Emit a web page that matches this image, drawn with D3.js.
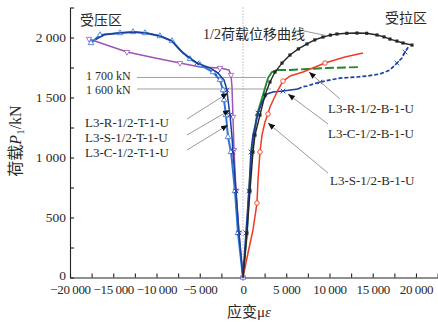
<!DOCTYPE html>
<html><head><meta charset="utf-8">
<script src="https://cdn.jsdelivr.net/npm/d3@7"></script>
<style>
body{margin:0;background:#fff}
svg{display:block}
text{font-family:"Liberation Serif","Times New Roman","Noto Sans CJK SC",serif;fill:#2a2a2a}
</style>
</head><body>
<svg id="chart" width="438" height="322"></svg>
<script>
// ---------- axis ticks ----------
const xTicks = d3.range(-20000, 22501, 2500);
const xLabels = [-20000, -15000, -10000, -5000, 0, 5000, 10000, 15000, 20000];
const yTicks = d3.range(0, 2251, 250);
const yLabels = [0, 500, 1000, 1500, 2000];

// ---------- tension side (strain με, load kN) ----------
const halfStrain = [0,462,809,1156,1387,1965,2543,3121,3700,4510,5433,6400,7400,8300,9250,10100,10865,12000,13180,14300,15490,16300,16990,17800,18500,19540];
const halfLoad   = [0,371,721,1046,1187,1354,1521,1629,1712,1787,1854,1905,1946,1980,2004,2020,2029,2035,2037,2035,2021,2005,1987,1970,1954,1937];

const sBStrain = [0,578,1156,1618,1734,1965,2196,2543,2890,3121,3930,4624,5433,6936,9480,11790,13870];
const sBLoad   = [0,204,396,621,812,1046,1187,1296,1362,1421,1546,1637,1679,1712,1787,1837,1871];

const rBStrain = [0,462,694,1040,1618,2312,2890,3352,3930,5433,7400,9710,13520];
const rBLoad   = [0,371,721,1046,1354,1521,1662,1712,1729,1729,1737,1746,1754];

const cBStrain = [0,347,694,925,1156,1734,2196,2774,3468,4624,6358,6820,7400,8900,11210,13180,14330,15840,16990,17800,18380,18730,19190];
const cBLoad   = [0,371,721,1046,1187,1371,1462,1529,1546,1554,1571,1588,1596,1629,1662,1671,1679,1696,1729,1787,1829,1879,1929];

// ---------- compression side ----------
const sTStrain = [-17571,-16531,-14219,-12716,-11329,-9595,-8208,-7283,-6127,-4971,-3468,-2659,-2312,-2196,-1965,-1734,-1387,-925,-578,0];
const sTLoad   = [1954,2021,2037,2046,2037,2012,1971,1896,1821,1771,1712,1646,1562,1479,1354,1171,1046,721,371,0];

const cTStrain = [-17000,-16000,-14000,-12500,-11000,-9500,-8208,-6936,-5318,-3815,-2890,-2196,-1850,-1734,-1503,-1271,-1156,-809,-462,0];
const cTLoad   = [1985,2025,2040,2045,2035,2010,1971,1871,1787,1746,1704,1646,1562,1479,1354,1171,1046,721,371,0];

const rTStrain = [-17802,-13410,-9595,-7283,-4971,-2659,-1618,-1387,-1271,-1156,-1040,-809,-462,0];
const rTLoad   = [1988,1879,1821,1787,1754,1746,1729,1688,1588,1338,1062,721,371,0];

// reference load lines
const refLoads  = [1667, 1571];
const refLabels = ["1 700 kN", "1 600 kN"];
const refEndStrain = [2660, 3240];

const svg = d3.select("#chart");
const x = d3.scaleLinear().domain([-20000, 22500]).range([70, 437.6]);
const y = d3.scaleLinear().domain([0, 2250]).range([277.5, 7.5]);

const fmt = v => (v < 0 ? "\u2212" : "") + d3.format(",")(Math.abs(v)).replace(/,/g, " ");

// zero dotted line
svg.append("line").attr("x1", x(0)).attr("x2", x(0)).attr("y1", y(2250)).attr("y2", y(0))
  .attr("stroke", "#9a9a9a").attr("stroke-width", 1).attr("stroke-dasharray", "1,2");

// axes
const xAxis = d3.axisBottom(x).tickValues(xTicks).tickSizeInner(-4).tickSizeOuter(0)
  .tickFormat(d => xLabels.includes(d) ? fmt(d) : "");
const gx = svg.append("g").attr("transform", `translate(0,${y(0)})`).call(xAxis);
gx.selectAll("text").attr("dy", null).attr("y", 16).style("font-size", "13px").style("letter-spacing", "-0.4px")
  .style("font-family", '"Liberation Serif",serif').attr("fill", "#2a2a2a");

const yAxis = d3.axisLeft(y).tickValues(yTicks).tickSizeInner(-4).tickSizeOuter(0)
  .tickFormat(d => yLabels.includes(d) ? fmt(d) : "");
const gy = svg.append("g").attr("transform", `translate(${x(-20000)},0)`).call(yAxis);
gy.selectAll("text").attr("x", -4).attr("dy", "0.3em").style("font-size", "13.5px").style("font-family", '"Liberation Serif",serif').attr("fill", "#2a2a2a");
gy.selectAll(".tick").filter(d => d === 0).select("text").attr("dy", "0.12em");
svg.selectAll(".domain, .tick line").attr("stroke", "#222").attr("stroke-width", 1.1);

// reference lines
const refTextShift = [-1.5, 1.5];
refLoads.forEach((L, i) => {
  svg.append("line").attr("x1", 137).attr("x2", x(refEndStrain[i])).attr("y1", y(L)).attr("y2", y(L))
    .attr("stroke", "#a0a0a0").attr("stroke-width", 1);
  svg.append("text").attr("x", 86).attr("y", y(L) + 4 + refTextShift[i]).style("font-size", "12px").text(refLabels[i]);
});

// series
const series = [
  {xs: rTStrain, ys: rTLoad, color: "#a052b8", w: 1.5, dashFrom: null, sym: "triDown", marks: [0,1,3,5,7,9,10,11,12,13]},
  {xs: sTStrain, ys: sTLoad, color: "#2f74d6", w: 2, dashFrom: null, sym: "tri", marks: [0,1,2,3,4,5,6,8,9,10,11,12,13,14,15,16,17,18,19]},
  {xs: cTStrain, ys: cTLoad, color: "#1c3f9c", w: 1.5, dashFrom: null, sym: "times", marks: [8,10,12,14,16,17,18]},
  {xs: rBStrain, ys: rBLoad, color: "#1f8a2c", w: 1.9, dashFrom: 8, dash: "9,3", sym: "circleFill", marks: [2,4]},
  {xs: cBStrain, ys: cBLoad, color: "#1d3fa0", w: 1.7, dashFrom: 10, dash: "4,2", sym: "times", marks: [1,2,3,5,9,13,19,21]},
  {xs: sBStrain, ys: sBLoad, color: "#f23a22", w: 1.5, dashFrom: null, sym: "circleOpen", marks: [3,5,8,11,14]},
  {xs: halfStrain, ys: halfLoad, color: "#262626", w: 1.4, dashFrom: null, sym: "square", marks: d3.range(1, 26)}
];

const line = d3.line().x(d => x(d[0])).y(d => y(d[1]));
series.forEach(s => {
  const pts = s.xs.map((v, i) => [v, s.ys[i]]);
  if (s.dashFrom == null) {
    svg.append("path").attr("d", line(pts)).attr("fill", "none").attr("stroke", s.color).attr("stroke-width", s.w).attr("stroke-linejoin", "round");
  } else {
    svg.append("path").attr("d", line(pts.slice(0, s.dashFrom + 1))).attr("fill", "none").attr("stroke", s.color).attr("stroke-width", s.w);
    svg.append("path").attr("d", line(pts.slice(s.dashFrom))).attr("fill", "none").attr("stroke", s.color).attr("stroke-width", s.w).attr("stroke-dasharray", s.dash);
  }
  const g = svg.append("g");
  s.marks.forEach(i => {
    const px = x(pts[i][0]), py = y(pts[i][1]);
    let p;
    if (s.sym === "tri") {
      p = g.append("path").attr("d", d3.symbol(d3.symbolTriangle, 14)()).attr("fill", "#fff").attr("stroke", s.color).attr("stroke-width", 0.8);
    } else if (s.sym === "triDown") {
      p = g.append("path").attr("d", d3.symbol(d3.symbolTriangle, 13)()).attr("fill", "#fff").attr("stroke", s.color).attr("stroke-width", 0.8);
      p.attr("transform", `translate(${px},${py}) rotate(180)`); return;
    } else if (s.sym === "times") {
      p = g.append("path").attr("d", d3.symbol(d3.symbolTimes, 16)()).attr("fill", "none").attr("stroke", s.color).attr("stroke-width", 0.9);
    } else if (s.sym === "square") {
      p = g.append("path").attr("d", d3.symbol(d3.symbolSquare, 10)()).attr("fill", s.color);
    } else if (s.sym === "circleOpen") {
      p = g.append("path").attr("d", d3.symbol(d3.symbolCircle, 16)()).attr("fill", "#fff").attr("stroke", s.color).attr("stroke-width", 0.9);
    } else {
      p = g.append("path").attr("d", d3.symbol(d3.symbolCircle, 10)()).attr("fill", s.color);
    }
    p.attr("transform", `translate(${px},${py})`);
  });
});

// arrowhead
svg.append("defs").append("marker").attr("id", "ah").attr("viewBox", "0 0 10 10").attr("refX", 10).attr("refY", 5)
  .attr("markerWidth", 7).attr("markerHeight", 7).attr("markerUnits", "userSpaceOnUse").attr("orient", "auto")
  .append("path").attr("d", "M0,1 L10,5 L0,9 Z").attr("fill", "#111");

// labels with leader lines (tips in data units)
const leaderLabels = ["L3-R-1/2-T-1-U", "L3-S-1/2-T-1-U", "L3-C-1/2-T-1-U", "L3-R-1/2-B-1-U", "L3-C-1/2-B-1-U", "L3-S-1/2-B-1-U"];
const leaderTipStrain = [-1734, -1503, -1734, 7630, 5200, 2890];
const leaderTipLoad = [1537, 1396, 1271, 1712, 1529, 1287];
const labelPos = [[85,127,187,119],[85,142,187,135],[85,157,187,150],[328,113,340,99],[328,138,328,124],[330,185,328,173]];
leaderLabels.forEach((t, i) => {
  const [tx, ty, lx, ly] = labelPos[i];
  svg.append("line").attr("x1", lx).attr("y1", ly).attr("x2", x(leaderTipStrain[i])).attr("y2", y(leaderTipLoad[i]))
    .attr("stroke", "#9a9a9a").attr("stroke-width", 1).attr("marker-end", "url(#ah)");
  svg.append("text").attr("x", tx).attr("y", ty).style("font-size", "13px").text(t);
});

// half load-displacement label
svg.append("line").attr("x1", 304).attr("y1", 31).attr("x2", x(9700)).attr("y2", y(2015)).attr("stroke", "#9a9a9a").attr("stroke-width", 1);
svg.append("text").attr("x", 203).attr("y", 39).style("font-size", "14px").text("1/2荷载位移曲线");

// zone labels
svg.append("text").attr("x", 80).attr("y", 25).style("font-size", "14px").text("受压区");
svg.append("text").attr("x", 385).attr("y", 23).style("font-size", "14px").text("受拉区");

// axis titles
const xt = svg.append("text").attr("x", 249).attr("y", 317).attr("text-anchor", "middle").style("font-size", "15px");
xt.append("tspan").text("应变μ");
xt.append("tspan").style("font-style", "italic").text("ε");

const yt = svg.append("text").attr("transform", "translate(21,141) rotate(-90)").attr("text-anchor", "middle").style("font-size", "16px");
yt.append("tspan").text("荷载");
yt.append("tspan").style("font-style", "italic").text("P");
yt.append("tspan").attr("dy", 3).style("font-size", "11px").text("1");
yt.append("tspan").attr("dy", -3).text("/kN");
</script>
</body></html>
